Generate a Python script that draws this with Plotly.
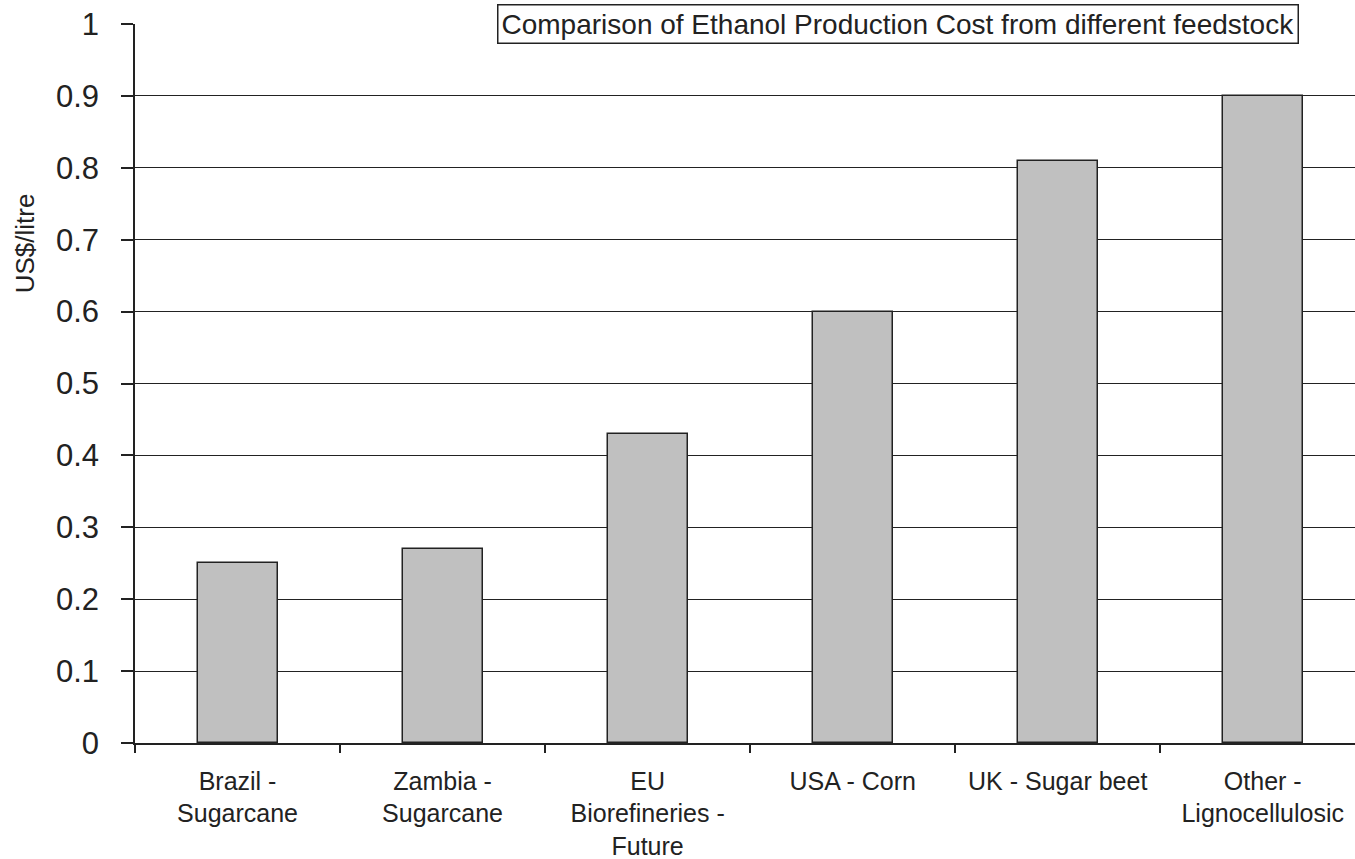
import plotly.graph_objects as go

categories = ["Brazil -<br>Sugarcane", "Zambia -<br>Sugarcane", "EU<br>Biorefineries -<br>Future",
              "USA - Corn", "UK - Sugar beet", "Other -<br>Lignocellulosic"]
costs = [0.25, 0.27, 0.43, 0.60, 0.81, 0.90]
y_ticks = [0, 0.1, 0.2, 0.3, 0.4, 0.5, 0.6, 0.7, 0.8, 0.9, 1]
y_tick_text = ["0", "0.1", "0.2", "0.3", "0.4", "0.5", "0.6", "0.7", "0.8", "0.9", "1"]
title_text = "Comparison of Ethanol Production Cost from different feedstock"
y_title = "US$/litre"

fig = go.Figure()
fig.add_trace(go.Bar(
    x=categories, y=costs, width=0.39,
    marker=dict(color="#C0C0C0", line=dict(color="#222222", width=1.5)),
))

font = "Liberation Sans, Arial, sans-serif"
fig.update_layout(
    width=1355, height=859,
    margin=dict(l=135, r=0, t=24, b=116),
    plot_bgcolor="white", paper_bgcolor="white",
    showlegend=False,
    font=dict(family=font, color="#222222"),
    bargap=0,
)
fig.update_xaxes(
    type="category", range=[-0.5, 5.45],
    tickson="boundaries", ticks="outside", ticklen=8, tickwidth=1.5, tickcolor="#222222",
    showline=True, linecolor="#222222", linewidth=1.5,
    showgrid=False, tickfont=dict(size=25, family=font, color="#222222"),
    tickangle=0, ticklabelstandoff=15,
)
fig.update_yaxes(
    range=[0, 1], tickvals=y_ticks, ticktext=y_tick_text,
    ticks="outside", ticklen=12, tickwidth=1.5, tickcolor="#222222",
    showline=True, linecolor="#222222", linewidth=1.5,
    showgrid=True, gridcolor="#222222", gridwidth=1,
    zeroline=False,
    tickfont=dict(size=31, family=font, color="#222222"),
    ticklabelstandoff=16,
)
fig.add_annotation(
    text=y_title, textangle=-90, xref="paper", yref="paper",
    x=0, y=0.695, xanchor="center", yanchor="middle", xshift=-110,
    showarrow=False, font=dict(size=26, family=font, color="#222222"),
)
fig.add_annotation(
    text=title_text, xref="paper", yref="paper",
    x=0.625, y=1, xanchor="center", yanchor="middle",
    showarrow=False, bgcolor="white", bordercolor="#222222", borderwidth=1.5,
    borderpad=3, font=dict(size=28, family=font, color="#222222"),
)

fig.write_html("out.html")
